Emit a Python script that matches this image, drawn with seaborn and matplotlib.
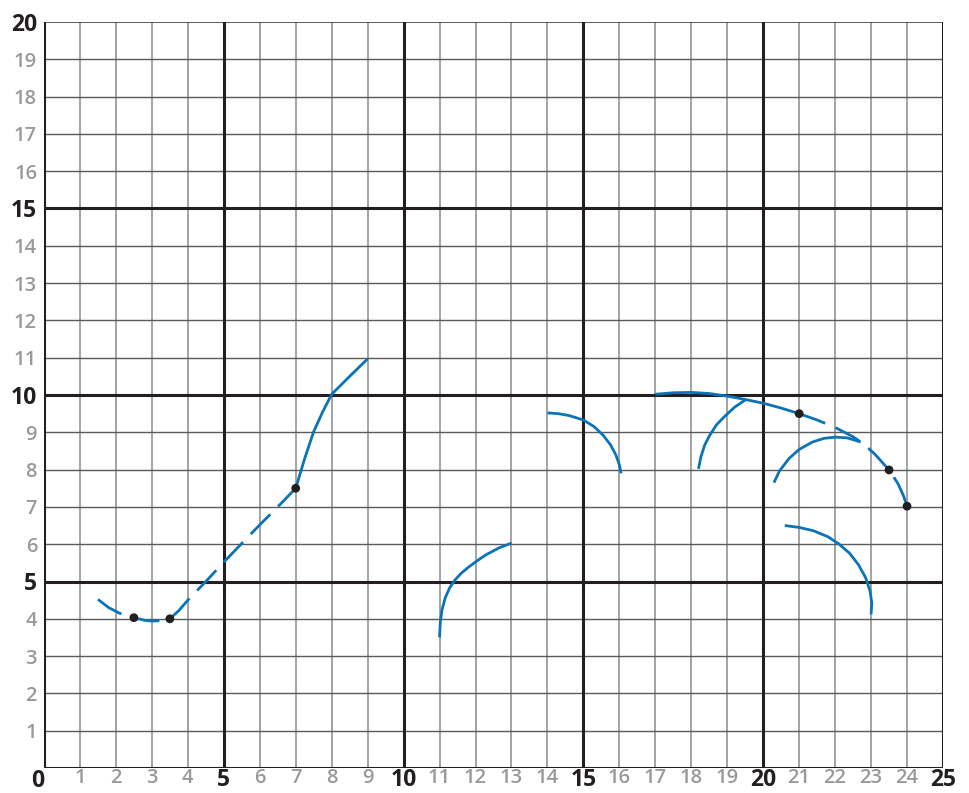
import matplotlib
matplotlib.use("Agg")
import matplotlib.pyplot as plt
import seaborn as sns
import pandas as pd

# ---- data ----
x_ticks = list(range(1, 26))
y_ticks = list(range(1, 21))
grid_x = list(range(0, 26))
grid_y = list(range(0, 21))

curve_a_dashed_x = [1.5, 1.8, 2.1, 2.5, 2.8, 3.0, 3.25, 3.5, 3.75, 4.0, 4.5, 5.0, 5.5, 6.0, 6.5, 7.0]
curve_a_dashed_y = [4.52, 4.3, 4.15, 4.03, 3.96, 3.94, 3.95, 4.0, 4.22, 4.5, 5.0, 5.52, 6.02, 6.52, 7.0, 7.5]
curve_a_solid_x = [7.0, 7.25, 7.5, 7.75, 8.0, 8.5, 9.0]
curve_a_solid_y = [7.5, 8.3, 9.02, 9.55, 10.02, 10.5, 10.97]
curve_a_dots_x = [2.5, 3.5, 7.0]
curve_a_dots_y = [4.03, 4.0, 7.5]

arc_b_x = [11.0, 11.02, 11.07, 11.16, 11.28, 11.42, 11.6, 11.8, 12.05, 12.3, 12.65, 13.0]
arc_b_y = [3.5, 3.9, 4.25, 4.57, 4.83, 5.03, 5.22, 5.38, 5.56, 5.72, 5.9, 6.03]

arc_c_x = [14.0, 14.3, 14.6, 15.0, 15.3, 15.55, 15.75, 15.9, 16.0, 16.05]
arc_c_y = [9.52, 9.5, 9.45, 9.33, 9.15, 8.92, 8.67, 8.4, 8.13, 7.9]

curve_d_solid_x = [17.0, 17.5, 18.0, 18.5, 19.0, 19.5, 20.0, 20.5, 21.0]
curve_d_solid_y = [10.02, 10.06, 10.07, 10.04, 9.97, 9.88, 9.78, 9.65, 9.5]
curve_d_dashed_x = [21.0, 21.5, 22.0, 22.5, 22.8, 23.1, 23.5, 23.75, 23.9, 24.0]
curve_d_dashed_y = [9.5, 9.33, 9.13, 8.88, 8.68, 8.42, 7.99, 7.62, 7.3, 7.02]
curve_d_dots_x = [21.0, 23.5, 24.0]
curve_d_dots_y = [9.5, 7.99, 7.02]

arc_e_x = [18.2, 18.27, 18.37, 18.5, 18.7, 18.92, 19.2, 19.52]
arc_e_y = [8.02, 8.35, 8.65, 8.9, 9.2, 9.42, 9.67, 9.88]

arc_f_x = [20.3, 20.45, 20.72, 21.0, 21.37, 21.7, 22.02, 22.34, 22.71]
arc_f_y = [7.65, 7.96, 8.3, 8.54, 8.74, 8.84, 8.87, 8.85, 8.74]

arc_g_x = [20.6, 21.0, 21.4, 21.8, 22.1, 22.4, 22.65, 22.85, 22.97, 23.02, 23.0]
arc_g_y = [6.5, 6.45, 6.36, 6.2, 6.01, 5.76, 5.45, 5.1, 4.75, 4.42, 4.12]

# ---- styles ----
BLUE = "#0a74b6"
DARK = "#231f20"
MAJOR_LBL = "#231f20"
MINOR_LBL = "#999999"

sns.set_theme(style="white")
plt.rcParams["font.family"] = ["Open Sans", "DejaVu Sans"]

fig = plt.figure(figsize=(9.69, 7.93), dpi=100)
ax = fig.add_axes([44 / 969, 25 / 793, (943 - 44) / 969, (768 - 22) / 793])
ax.set_xlim(0, 25)
ax.set_ylim(0, 20)

# grid lines
for v in grid_x:
    if v % 5 == 0:
        ax.axvline(v, color=DARK, lw=2.2, zorder=1)
    else:
        ax.axvline(v, color="#8a8a8a", lw=1.1, zorder=0.5)
for v in grid_y:
    if v % 5 == 0 and v != 20:
        ax.axhline(v, color=DARK, lw=2.2, zorder=1)
    elif v == 20:
        ax.axhline(v, color="#333333", lw=1.1, zorder=0.5)
    else:
        ax.axhline(v, color="#5a5a5a", lw=1.0, zorder=0.5)

for s in ax.spines.values():
    s.set_visible(False)

dash = (0, (10, 4))
lw = 2.0

def line(xs, ys, dashed=False):
    df = pd.DataFrame({"x": xs, "y": ys})
    kw = dict(linestyle=dash) if dashed else {}
    sns.lineplot(data=df, x="x", y="y", sort=False, estimator=None, color=BLUE,
                 linewidth=lw, ax=ax, zorder=3, solid_capstyle="butt",
                 dash_capstyle="butt", solid_joinstyle="round", **kw)

line(curve_a_dashed_x, curve_a_dashed_y, dashed=True)
line(curve_a_solid_x, curve_a_solid_y)
line(arc_b_x, arc_b_y)
line(arc_c_x, arc_c_y)
line(curve_d_solid_x, curve_d_solid_y)
line(curve_d_dashed_x, curve_d_dashed_y, dashed=True)
line(arc_e_x, arc_e_y)
line(arc_f_x, arc_f_y)
line(arc_g_x, arc_g_y)

dots = pd.DataFrame({"x": curve_a_dots_x + curve_d_dots_x,
                     "y": curve_a_dots_y + curve_d_dots_y})
sns.scatterplot(data=dots, x="x", y="y", color=DARK, s=40, edgecolor="none",
                ax=ax, zorder=4)

# ticks and labels
ax.set_xticks(x_ticks)
ax.set_yticks(y_ticks)
ax.set_xticklabels([str(v) for v in x_ticks])
ax.set_yticklabels([str(v) for v in y_ticks])
ax.tick_params(axis="both", length=0)
ax.tick_params(axis="x", pad=0)
ax.tick_params(axis="y", pad=5)

def style(lbl, v):
    if v % 5 == 0:
        lbl.set_fontsize(16.5); lbl.set_fontweight("bold"); lbl.set_color(MAJOR_LBL)
    else:
        lbl.set_fontsize(14.5); lbl.set_fontweight("semibold"); lbl.set_color(MINOR_LBL)

for lbl, v in zip(ax.get_xticklabels(), x_ticks):
    style(lbl, v)
for lbl, v in zip(ax.get_yticklabels(), y_ticks):
    style(lbl, v)

ax.annotate("0", xy=(0, 0), xycoords="axes fraction", xytext=(-4.5, -1),
            textcoords="offset points", ha="center", va="top",
            fontsize=16.5, fontweight="bold", color=MAJOR_LBL)
ax.set_xlabel("")
ax.set_ylabel("")

fig.savefig("out.png", dpi=100)
